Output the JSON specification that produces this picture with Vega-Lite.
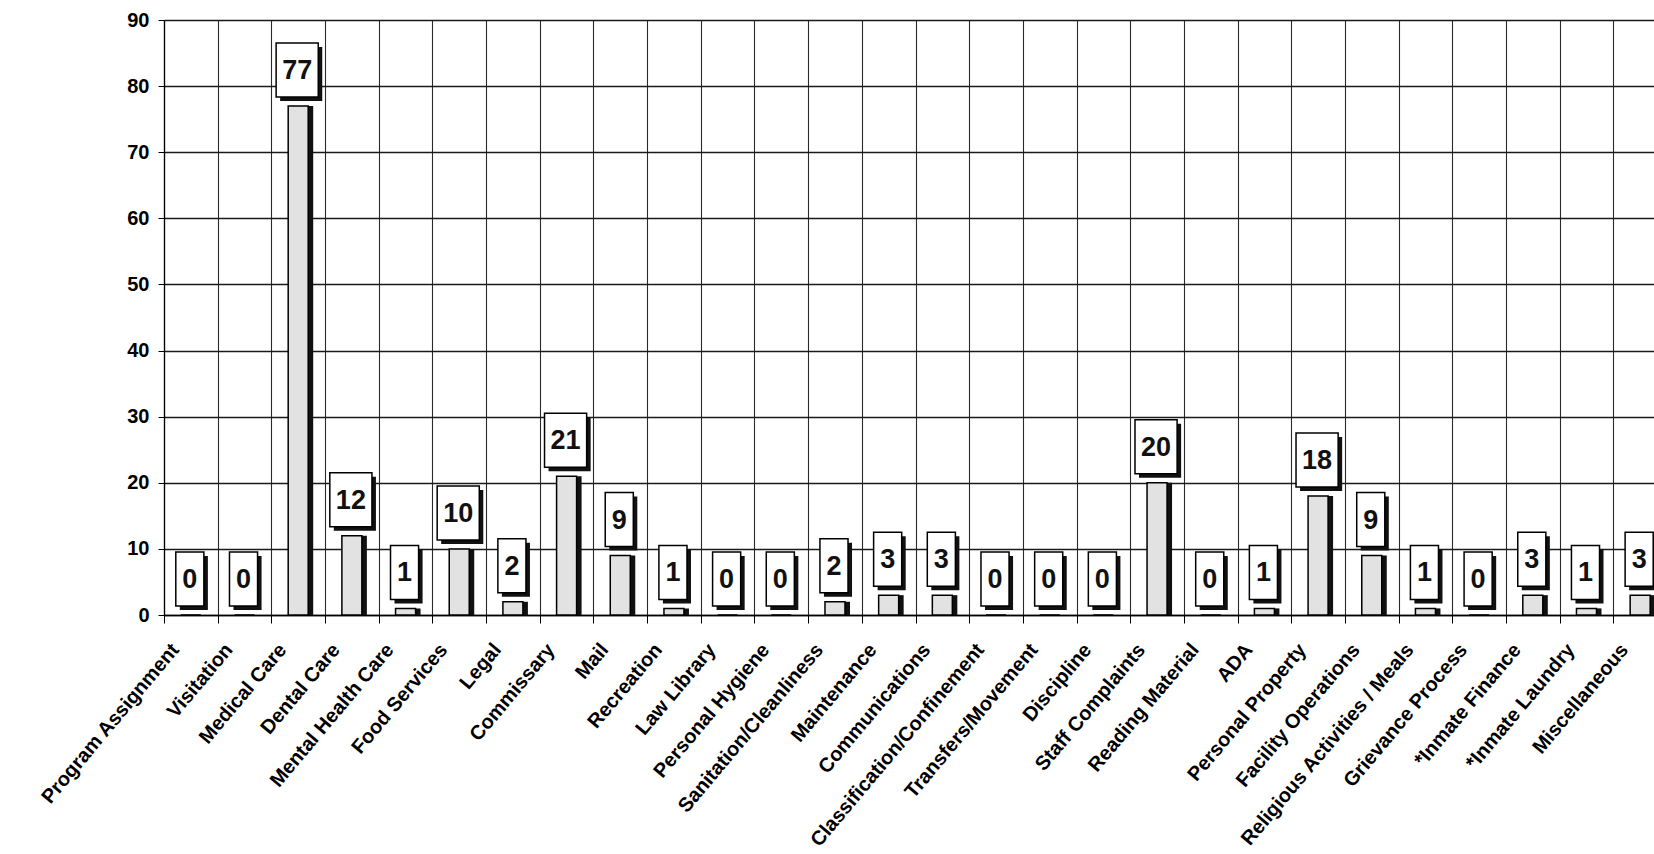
{
  "$schema": "https://vega.github.io/schema/vega-lite/v6.json",
  "autosize": "none",
  "width": 1490,
  "height": 595,
  "padding": {"left": 164, "top": 20, "right": 0, "bottom": 239},
  "background": "white",
  "config": {
    "view": {"stroke": null},
    "font": "Liberation Sans"
  },
  "data": {
    "values": [
      {"category": "Program Assignment", "value": 0},
      {"category": "Visitation", "value": 0},
      {"category": "Medical Care", "value": 77},
      {"category": "Dental Care", "value": 12},
      {"category": "Mental Health Care", "value": 1},
      {"category": "Food Services", "value": 10},
      {"category": "Legal", "value": 2},
      {"category": "Commissary", "value": 21},
      {"category": "Mail", "value": 9},
      {"category": "Recreation", "value": 1},
      {"category": "Law Library", "value": 0},
      {"category": "Personal Hygiene", "value": 0},
      {"category": "Sanitation/Cleanliness", "value": 2},
      {"category": "Maintenance", "value": 3},
      {"category": "Communications", "value": 3},
      {"category": "Classification/Confinement", "value": 0},
      {"category": "Transfers/Movement", "value": 0},
      {"category": "Discipline", "value": 0},
      {"category": "Staff Complaints", "value": 20},
      {"category": "Reading Material", "value": 0},
      {"category": "ADA", "value": 1},
      {"category": "Personal Property", "value": 18},
      {"category": "Facility Operations", "value": 9},
      {"category": "Religious Activities / Meals", "value": 1},
      {"category": "Grievance Process", "value": 0},
      {"category": "*Inmate Finance", "value": 3},
      {"category": "*Inmate Laundry", "value": 1},
      {"category": "Miscellaneous", "value": 3}
    ]
  },
  "encoding": {
    "x": {
      "field": "category",
      "type": "nominal",
      "sort": null,
      "scale": {"range": [0, 1503], "paddingInner": 0, "paddingOuter": 0},
      "axis": {
        "title": null,
        "tickBand": "extent",
        "grid": true,
        "gridColor": "#2a2a2a",
        "gridWidth": 1.1,
        "domain": true,
        "domainColor": "#000",
        "domainWidth": 1.5,
        "ticks": true,
        "tickColor": "#000",
        "tickSize": 8,
        "labelAngle": -50,
        "labelAlign": "right",
        "labelBaseline": "middle",
        "labelPadding": 23,
        "labelOffset": -16,
        "labelFont": "Liberation Sans",
        "labelFontSize": 20,
        "labelFontWeight": "bold",
        "labelColor": "#000",
        "labelOverlap": false,
        "labelLimit": 400
      }
    },
    "y": {
      "field": "value",
      "type": "quantitative",
      "scale": {"domain": [0, 90], "nice": false},
      "axis": {
        "title": null,
        "values": [0, 10, 20, 30, 40, 50, 60, 70, 80, 90],
        "grid": true,
        "gridColor": "#1a1a1a",
        "gridWidth": 1.3,
        "domain": true,
        "domainColor": "#000",
        "domainWidth": 1.3,
        "tickColor": "#000",
        "tickSize": 6,
        "labelPadding": 9,
        "labelFont": "Liberation Sans",
        "labelFontSize": 20,
        "labelFontWeight": "bold",
        "labelColor": "#000"
      }
    }
  },
  "layer": [
    {
      "mark": {"type": "bar", "width": 20, "color": "#111111", "xOffset": 5}
    },
    {
      "mark": {"type": "bar", "width": 20, "fill": "#e2e2e2", "stroke": "#000000", "strokeWidth": 1.5}
    },
    {
      "mark": {"type": "point", "filled": true, "color": "#111111", "opacity": 1, "size": 2916, "xOffset": 3, "yOffset": -32},
      "encoding": {
        "shape": {
          "condition": {"test": "datum.value >= 10", "value": "M-0.78,-1L0.78,-1L0.78,1L-0.78,1Z"},
          "value": "M-0.52,-1L0.52,-1L0.52,1L-0.52,1Z"
        }
      }
    },
    {
      "mark": {"type": "point", "filled": true, "fill": "#ffffff", "stroke": "#000000", "strokeWidth": 1.5, "opacity": 1, "size": 2916, "xOffset": -1, "yOffset": -36},
      "encoding": {
        "shape": {
          "condition": {"test": "datum.value >= 10", "value": "M-0.78,-1L0.78,-1L0.78,1L-0.78,1Z"},
          "value": "M-0.52,-1L0.52,-1L0.52,1L-0.52,1Z"
        }
      }
    },
    {
      "mark": {"type": "text", "font": "Liberation Sans", "fontSize": 27, "fontWeight": "bold", "color": "#111", "baseline": "middle", "align": "center", "xOffset": -1, "yOffset": -35},
      "encoding": {
        "text": {"field": "value", "type": "quantitative"}
      }
    }
  ]
}
